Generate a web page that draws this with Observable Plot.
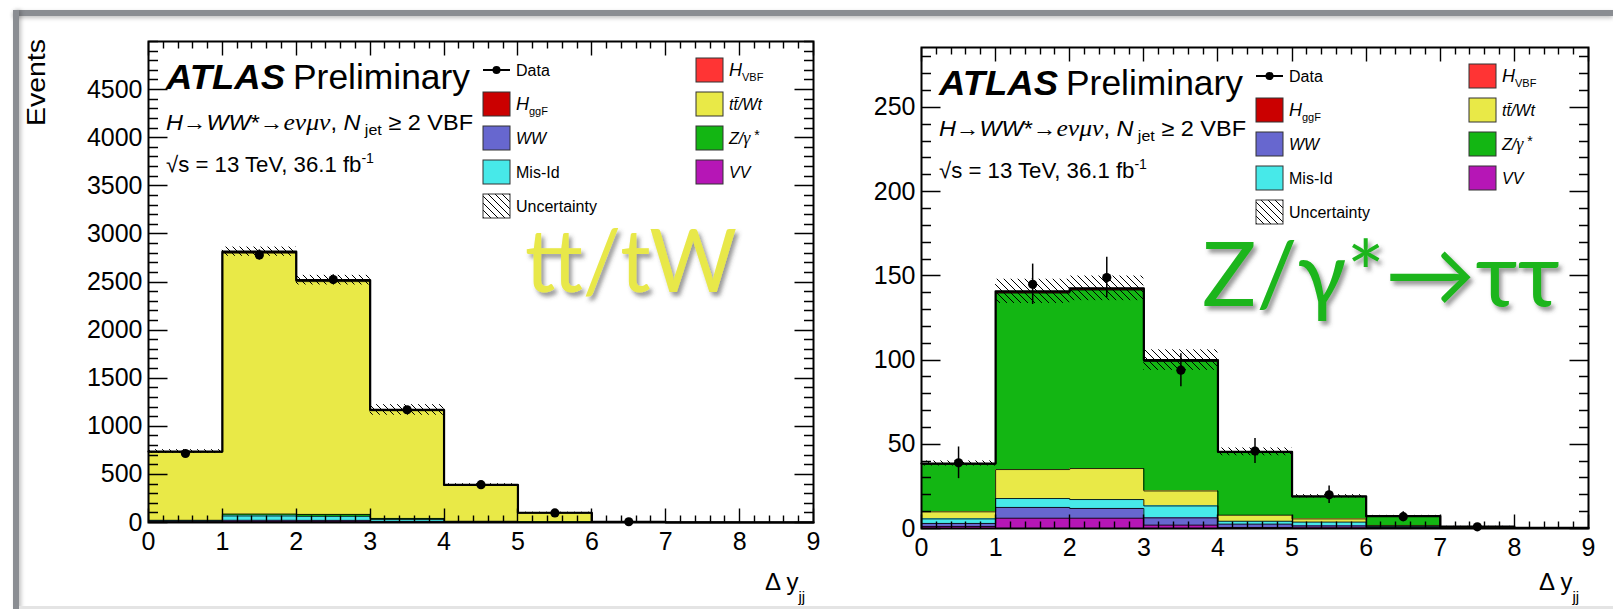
<!DOCTYPE html>
<html><head><meta charset="utf-8">
<script src="https://cdn.jsdelivr.net/npm/d3@7"></script>
<script src="https://cdn.jsdelivr.net/npm/@observablehq/plot@0.6"></script>
<style>
html,body{margin:0;padding:0;background:#fff;}
#page{position:relative;width:1613px;height:609px;overflow:hidden;background:#fff;}
.bar{position:absolute;background:#8a8d92;}
#page svg{position:absolute;top:0;}
</style></head><body><div id="page">
<div class="bar" style="left:13px;top:10px;width:1600px;height:6px;box-shadow:0 2px 4px rgba(0,0,0,0.25)"></div>
<div class="bar" style="left:13px;top:10px;width:6px;height:599px;box-shadow:2px 0 4px rgba(0,0,0,0.25)"></div>
<div style="position:absolute;left:19px;top:606px;width:1594px;height:3px;background:#e4e4e4"></div>
</div>
<script>
// ---------------- data ----------------
const binEdges = [0, 1, 2, 3, 4, 5, 6, 7, 8, 9];
const xTickLabels = [0, 1, 2, 3, 4, 5, 6, 7, 8, 9];
const leftYTickLabels = [0, 500, 1000, 1500, 2000, 2500, 3000, 3500, 4000, 4500];
const rightYTickLabels = [0, 50, 100, 150, 200, 250];

const compNames  = ["HVBF", "HggF", "ttWt", "WW", "Zgamma", "MisId", "VV"];
const compColors = ["#ff3434", "#cb0000", "#e9e947", "#6767cf", "#13b613", "#47e9e9", "#b616b6"];

// left panel: top-quark control region
const topVV    = [3, 8, 8, 4, 1, 0.5, 0.1, 0, 0];
const topWW    = [5, 15, 14, 8, 3, 1, 0.3, 0.1, 0];
const topMisId = [10, 45, 42, 20, 5, 2, 0.5, 0.1, 0];
const topZ     = [5, 20, 20, 10, 4, 2, 0.5, 0.1, 0];
const topTtWt  = [709, 2712, 2420, 1120, 375, 95, 4, 0.8, 0.3];
const topHggF  = [3, 10, 10, 5, 2, 0.5, 0.1, 0, 0];
const topHVBF  = [2, 5, 5, 3, 1, 0.5, 0.2, 0.1, 0.1];
const topData  = [717, 2781, 2525, 1172, 393, 100, 8, null, null];
const topDataErr = [27, 53, 50, 34, 20, 10, 3, 0, 0];
const topUnc   = [20, 48, 50, 55, 12, 6, 1, 0.3, 0.1];

// right panel: Z/gamma* -> tautau control region
const zVV    = [1.2, 6.1, 6.1, 2.0, 0.6, 0.3, 0.1, 0, 0];
const zWW    = [1.8, 6.4, 5.8, 4.3, 2.0, 1.2, 0.5, 0.1, 0];
const zMisId = [2.7, 5.3, 5.3, 7.1, 1.7, 2.3, 0.6, 0.1, 0];
const zTtWt  = [4.2, 17.2, 18.4, 8.9, 3.6, 1.9, 0.6, 0.1, 0.05];
const zZ     = [28.2, 104.8, 106, 76.9, 37.2, 13.2, 5.4, 0.8, 0.3];
const zHggF  = [0.3, 0.6, 0.6, 0.5, 0.2, 0.1, 0.05, 0, 0];
const zHVBF  = [0.2, 0.4, 0.4, 0.3, 0.2, 0.1, 0.05, 0, 0];
const zData  = [39, 145, 149, 94, 46, 20, 7, 1, null];
const zDataErr = [9.4, 12, 12, 9.8, 7.4, 5.2, 3, 1, 0];
const zUnc   = [1.5, 7.2, 7.3, 6.1, 2.3, 1.0, 0.5, 0.2, 0.1];

// ---------------- drawing ----------------
const FONT = "'Liberation Sans', Arial, Helvetica, sans-serif";
const colorOf = Object.fromEntries(compNames.map((n, i) => [n, compColors[i]]));
const page = document.getElementById("page");

const defsSvg = d3.select(page).append("svg").attr("width", 0).attr("height", 0).style("position", "absolute");
const defs = defsSvg.append("defs");
for (const id of ["hatchL", "hatchR"]) {
  const pat = defs.append("pattern").attr("id", id).attr("patternUnits", "userSpaceOnUse").attr("width", 7).attr("height", 7);
  pat.append("path").attr("d", "M-1,-1L8,8M-1,6L1,8M6,-1L8,1").attr("stroke", "black").attr("stroke-width", 1);
}
const sh = defs.append("filter").attr("id", "shadow").attr("x", "-10%").attr("y", "-10%").attr("width", "130%").attr("height", "130%");
sh.append("feDropShadow").attr("dx", 3).attr("dy", 4).attr("stdDeviation", 2.2).attr("flood-color", "#444").attr("flood-opacity", 0.55);

function richText(g, x, y, size, parts, extra = {}) {
  const t = g.append("text").attr("x", x).attr("y", y).attr("font-size", size)
    .attr("fill", "black").attr("font-family", FONT).attr("text-anchor", "start");
  for (const [k, v] of Object.entries(extra)) t.attr(k, v);
  for (const p of parts) {
    const s = t.append("tspan").text(p.t);
    if (p.i) s.attr("font-style", "italic");
    if (p.b) s.attr("font-weight", "bold");
    if (p.size) s.attr("font-size", p.size);
    if (p.dy) s.attr("dy", p.dy);
    if (p.font) s.attr("font-family", p.font);
  }
  return t;
}

function panel(cfg) {
  const {width, height, ml, mr, mt, mb, yMax, yMajor, yStep, order, series, data, err, unc, hatchId} = cfg;
  const rows = [], outline = [], tops = [];
  for (let i = 0; i < binEdges.length - 1; i++) {
    let c = 0;
    for (const k of order) {
      const v = series[k][i];
      rows.push({x1: binEdges[i], x2: binEdges[i + 1], y1: c, y2: c + v, comp: k});
      c += v;
      outline.push({x: binEdges[i], y: c, comp: k}, {x: binEdges[i + 1], y: c, comp: k});
    }
    tops.push(c);
  }
  const last = order[order.length - 1];
  const uncRows = tops.map((t, i) => ({x1: binEdges[i], x2: binEdges[i + 1], y1: Math.max(0, t - unc[i]), y2: t + unc[i]}));
  const dataRows = data.map((v, i) => ({x: (binEdges[i] + binEdges[i + 1]) / 2, y: v, e: err[i]})).filter(d => d.y != null);

  const plot = Plot.plot({
    width, height, marginLeft: ml, marginRight: mr, marginTop: mt, marginBottom: mb,
    x: {domain: [0, 9], label: null},
    y: {domain: [0, yMax], label: null},
    color: {domain: compNames, range: compColors},
    style: {fontFamily: FONT, background: "transparent", overflow: "visible", maxWidth: "none"},
    marks: [
      Plot.rect(rows, {x1: "x1", x2: "x2", y1: "y1", y2: "y2", fill: "comp", shapeRendering: "crispEdges"}),
      Plot.line(outline, {x: "x", y: "y", z: "comp", stroke: "black", strokeWidth: 1, strokeOpacity: 0.85}),
      Plot.line(outline.filter(d => d.comp === last), {x: "x", y: "y", stroke: "black", strokeWidth: 2.2}),
      Plot.rect(uncRows, {x1: "x1", x2: "x2", y1: "y1", y2: "y2", fill: `url(#${hatchId})`}),
      Plot.ruleX(dataRows, {x: "x", y1: d => d.y - d.e, y2: d => d.y + d.e, strokeWidth: 1.5}),
      Plot.dot(dataRows, {x: "x", y: "y", r: 4.6, fill: "black"}),
      Plot.frame({stroke: "black", strokeWidth: 2}),
      Plot.axisX({ticks: xTickLabels, tickSize: 0, tickPadding: 10, fontSize: 25, label: null, tickFormat: d => String(d)}),
      Plot.axisY({ticks: yMajor, tickSize: 0, tickPadding: 6, fontSize: 25, label: null, tickFormat: d => String(d)})
    ]
  });

  const svg = d3.select(plot);
  // ROOT-style inward ticks on all four sides as one path, placed with the plot's own scales
  const xs = plot.scale("x"), ys = plot.scale("y");
  const X = v => Math.round(xs.apply(v)) + 0.5, Y = v => Math.round(ys.apply(v)) + 0.5;
  const y0 = Y(0), yT = Y(yMax), x0 = X(0), x9 = X(9);
  const xMinor = d3.range(0, 46).map(i => i * 0.2);
  const yMinor = d3.range(0, Math.floor(yMax / yStep) + 1).map(i => i * yStep);
  let d = "";
  for (const [vals, len] of [[xMinor, 7], [xTickLabels, 14]]) for (const v of vals) {
    d += `M${X(v)},${y0}V${y0 - len}M${X(v)},${yT}V${yT + len}`;
  }
  for (const [vals, len] of [[yMinor, 9.5], [yMajor, 19]]) for (const v of vals) {
    d += `M${x0},${Y(v)}H${x0 + len}M${x9},${Y(v)}H${x9 - len}`;
  }
  svg.append("path").attr("d", d).attr("fill", "none").attr("stroke", "#000").attr("stroke-width", 1.4);

  const g = svg.append("g").attr("text-anchor", "start");
  const fx = ml, fy = mt;
  richText(g, fx + 18, fy + 48, 35, [{t: "ATLAS", b: 1, i: 1}], {textLength: 119, lengthAdjust: "spacingAndGlyphs"});
  richText(g, fx + 145, fy + 48, 35, [{t: "Preliminary"}], {textLength: 177, lengthAdjust: "spacingAndGlyphs"});
  richText(g, fx + 18, fy + 89, 22, [
    {t: "H", i: 1}, {t: "→"}, {t: "WW", i: 1}, {t: "*"}, {t: "→"},
    {t: "eνμν", i: 1, font: "'Liberation Serif', serif", size: 24}, {t: ", "},
    {t: "N", i: 1}, {t: " jet", size: 15, dy: 5}, {t: " ≥ 2 VBF", dy: -5}
  ], {textLength: 307, lengthAdjust: "spacingAndGlyphs"});
  richText(g, fx + 18, fy + 131, 22, [
    {t: "√s = 13 TeV, 36.1 fb"}, {t: "-1", size: 14, dy: -9}
  ], {textLength: 208, lengthAdjust: "spacingAndGlyphs"});

  const rowY = i => fy + 29 + 34 * i;
  const lx = fx + 335, rx = fx + 548, bw = 27, bh = 24;
  g.append("line").attr("x1", lx).attr("x2", lx + bw).attr("y1", rowY(0)).attr("y2", rowY(0)).attr("stroke", "black").attr("stroke-width", 2);
  g.append("circle").attr("cx", lx + bw / 2).attr("cy", rowY(0)).attr("r", 4).attr("fill", "black");
  const leftItems = [
    {row: 0, parts: [{t: "Data"}]},
    {row: 1, fill: colorOf.HggF, parts: [{t: "H", i: 1, size: 18}, {t: "ggF", size: 11, dy: 5}]},
    {row: 2, fill: colorOf.WW, parts: [{t: "WW", i: 1}]},
    {row: 3, fill: colorOf.MisId, parts: [{t: "Mis-Id"}]},
    {row: 4, fill: `url(#${hatchId})`, parts: [{t: "Uncertainty"}]}
  ];
  const rightItems = [
    {row: 0, fill: colorOf.HVBF, parts: [{t: "H", i: 1, size: 18}, {t: "VBF", size: 11, dy: 5}]},
    {row: 1, fill: colorOf.ttWt, parts: [{t: "tt̄/Wt", i: 1}]},
    {row: 2, fill: colorOf.Zgamma, parts: [{t: "Z/", i: 1}, {t: "γ", i: 1, font: "'Liberation Serif', serif", size: 18}, {t: " *", size: 14, dy: -4}]},
    {row: 3, fill: colorOf.VV, parts: [{t: "VV", i: 1}]}
  ];
  for (const [items, bx] of [[leftItems, lx], [rightItems, rx]]) {
    for (const it of items) {
      if (it.fill) g.append("rect").attr("x", bx).attr("y", rowY(it.row) - bh / 2).attr("width", bw).attr("height", bh)
        .attr("fill", it.fill).attr("stroke", "#333").attr("stroke-width", 1);
      richText(g, bx + bw + 6, rowY(it.row) + 5.8, 16, it.parts);
    }
  }
  richText(g, cfg.axX, 590, 24, [{t: "Δ y"}, {t: "jj", size: 15, dy: 12}]);
  return {plot, g};
}

const L = panel({
  width: 830, height: 609, ml: 148, mr: 17, mt: 41, mb: 87, yMax: 5000,
  yMajor: leftYTickLabels, yStep: 100,
  order: ["VV", "WW", "MisId", "Zgamma", "ttWt", "HggF", "HVBF"],
  series: {VV: topVV, WW: topWW, MisId: topMisId, Zgamma: topZ, ttWt: topTtWt, HggF: topHggF, HVBF: topHVBF},
  data: topData, err: topDataErr, unc: topUnc, hatchId: "hatchL", axX: 765
});
L.plot.style.left = "0px";
page.appendChild(L.plot);
L.g.append("text").attr("transform", "translate(45,39) rotate(-90)")
  .attr("text-anchor", "end").attr("font-family", FONT).attr("font-size", 26)
  .attr("textLength", 87).attr("lengthAdjust", "spacingAndGlyphs").attr("fill", "black").text("Events");
L.g.append("text").attr("x", 525).attr("y", 292).attr("font-family", "Lato, 'Open Sans', sans-serif")
  .attr("font-size", 88).attr("fill", "#e8e848").attr("filter", "url(#shadow)")
  .attr("textLength", 212).attr("lengthAdjust", "spacingAndGlyphs").text("tt/tW");

const R = panel({
  width: 783, height: 609, ml: 91, mr: 25, mt: 47, mb: 81, yMax: 285.6,
  yMajor: rightYTickLabels, yStep: 10,
  order: ["VV", "WW", "MisId", "ttWt", "Zgamma", "HggF", "HVBF"],
  series: {VV: zVV, WW: zWW, MisId: zMisId, Zgamma: zZ, ttWt: zTtWt, HggF: zHggF, HVBF: zHVBF},
  data: zData, err: zDataErr, unc: zUnc, hatchId: "hatchR", axX: 709
});
R.plot.style.left = "830px";
page.appendChild(R.plot);
R.g.append("text").attr("x", 372).attr("y", 306).attr("font-family", "Lato, 'Open Sans', sans-serif")
  .attr("font-size", 90).attr("fill", "#1db51d").attr("filter", "url(#shadow)")
  .attr("textLength", 358).attr("lengthAdjust", "spacingAndGlyphs").text("Z/γ*→ττ");
</script></body></html>
